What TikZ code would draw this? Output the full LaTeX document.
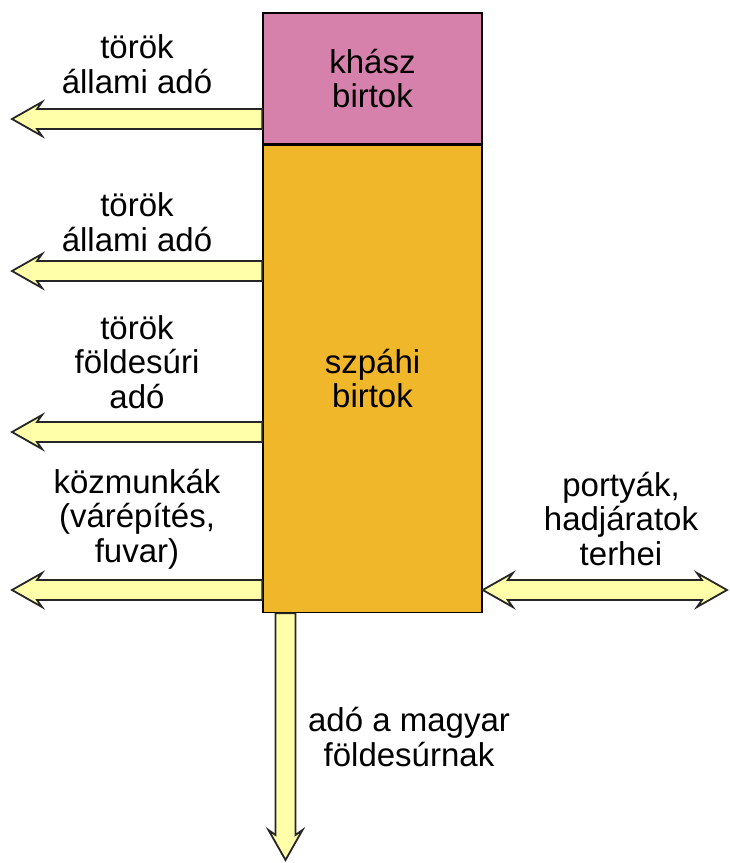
\documentclass[tikz,border=0pt]{standalone}
\usepackage{fontspec}
\setmainfont{Liberation Sans}
\usetikzlibrary{calc, positioning}
\definecolor{khaszpink}{HTML}{D681AC}
\definecolor{szpahiorange}{HTML}{F0B72B}
\definecolor{arrowyellow}{HTML}{FFFFAA}

\tikzset{
  birtok/.style = {draw, line width = 1.5pt, minimum width = 219pt, align = center, inner sep = 0pt, font = \fontsize{33}{34}\selectfont},
  arrowtext/.style = {align = center, inner sep = 0pt, font = \fontsize{33}{34.5}\selectfont},
  fatarr/.style = {draw = black!85, line width = 1.8pt, fill = arrowyellow, line join = miter}
}

% fat arrow from #1 (tail) to #2 (tip)
\newcommand{\fatarrow}[2]{%
  \path ($(#2)!25pt!(#1)$) coordinate (hj) ($(#2)!30pt!(#1)$) coordinate (hb);
  \draw[fatarr] ($(#1)!10pt!-90:(#2)$) -- ($(hj)!10pt!-90:(#2)$) -- ($(hb)!17pt!-90:(#2)$) -- (#2)
    -- ($(hb)!17pt!90:(#2)$) -- ($(hj)!10pt!90:(#2)$) -- ($(#1)!10pt!90:(#2)$) -- cycle;
}
% fat arrow with a head on both ends
\newcommand{\fatdoublearrow}[2]{%
  \path ($(#1)!25pt!(#2)$) coordinate (hja) ($(#1)!30pt!(#2)$) coordinate (hba)
        ($(#2)!25pt!(#1)$) coordinate (hjb) ($(#2)!30pt!(#1)$) coordinate (hbb);
  \draw[fatarr] (#1) -- ($(hba)!17pt!-90:(#2)$) -- ($(hja)!10pt!-90:(#2)$) -- ($(hjb)!10pt!-90:(#2)$)
    -- ($(hbb)!17pt!-90:(#2)$) -- (#2) -- ($(hbb)!17pt!90:(#2)$) -- ($(hjb)!10pt!90:(#2)$)
    -- ($(hja)!10pt!90:(#2)$) -- ($(hba)!17pt!90:(#2)$) -- cycle;
}

\begin{document}
\begin{tikzpicture}[x = 1pt, y = -1pt]
\useasboundingbox (0,0) rectangle (729,863);

% birtokok
\node[birtok, fill = khaszpink, minimum height = 131pt] (khasz) at (372.5,78.5) {khász\\birtok};
\node[birtok, fill = szpahiorange, minimum height = 467pt, below = 0pt of khasz] (szpahi) {szpáhi\\birtok};

% 1
\coordinate (k1) at (khasz.west |- 0,119);
\coordinate (v1) at (12,119);
\fatarrow{k1}{v1}
\node[arrowtext] (t1) at (137,64) {török\\állami adó};

% 2
\coordinate (k2) at (szpahi.west |- 0,271);
\coordinate (v2) at (12,271);
\fatarrow{k2}{v2}
\node[arrowtext] (t2) at (137,222) {török\\állami adó};

% 3
\coordinate (k3) at (szpahi.west |- 0,432);
\coordinate (v3) at (12,432);
\fatarrow{k3}{v3}
\node[arrowtext] (t3) at (137,362) {török\\földesúri\\adó};

% 4
\coordinate (k4) at (szpahi.west |- 0,590);
\coordinate (v4) at (12,590);
\fatarrow{k4}{v4}
\node[arrowtext] (t4) at (137,519) {közmunkák\\(várépítés,\\fuvar)};

% 5
\coordinate (k5) at (szpahi.east |- 0,590);
\coordinate (v5) at (727,590);
\fatdoublearrow{k5}{v5}
\node[arrowtext] (t5) at (621,519) {portyák,\\hadjáratok\\terhei};

% 6
\coordinate (k6) at (szpahi.south -| 285.5,0);
\coordinate (v6) at (285.5,860);
\fatarrow{k6}{v6}
\node[arrowtext] (t6) at (409,737) {adó a magyar\\földesúrnak};
\end{tikzpicture}
\end{document}
